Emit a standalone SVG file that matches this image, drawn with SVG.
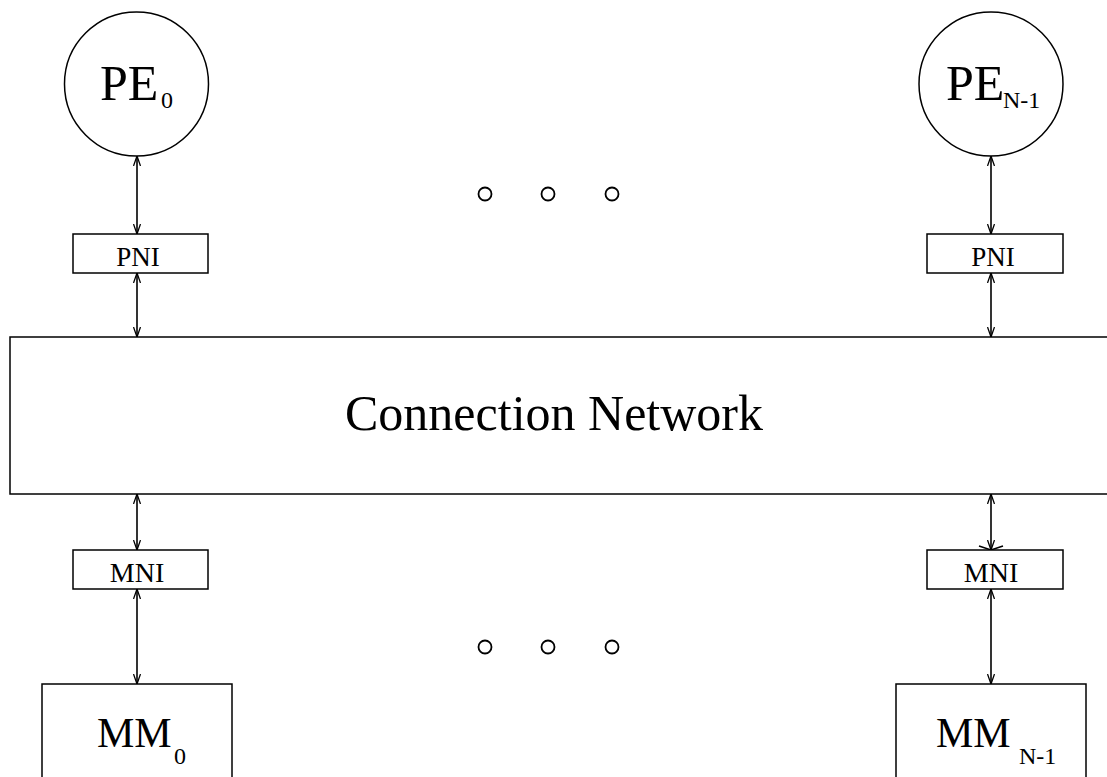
<svg xmlns="http://www.w3.org/2000/svg" width="1107" height="777" viewBox="0 0 1107 777">
<style>
.s{fill:#fff;stroke:#000;stroke-width:1.5}
.t{font-family:"Liberation Serif","Times New Roman",serif;fill:#000}
.c{stroke:#000;stroke-width:1.6;fill:none}
.d{fill:none;stroke:#000;stroke-width:1.8}
</style>
<defs>
<marker id="ah" viewBox="0 0 10 8" refX="10" refY="4" markerWidth="10" markerHeight="8" markerUnits="userSpaceOnUse" orient="auto-start-reverse">
<path d="M0,0.5 L10,4 L0,7.5" fill="none" stroke="#000" stroke-width="1.3"/>
</marker>
</defs>
<rect width="1107" height="777" fill="#fff"/>
<g id="connectors">
<line class="c" x1="137" y1="156" x2="137" y2="234" marker-start="url(#ah)" marker-end="url(#ah)"/>
<line class="c" x1="137" y1="273" x2="137" y2="337" marker-start="url(#ah)" marker-end="url(#ah)"/>
<line class="c" x1="137" y1="494" x2="137" y2="550" marker-start="url(#ah)" marker-end="url(#ah)"/>
<line class="c" x1="137" y1="589" x2="137" y2="684" marker-start="url(#ah)" marker-end="url(#ah)"/>
<line class="c" x1="991" y1="156" x2="991" y2="234" marker-start="url(#ah)" marker-end="url(#ah)"/>
<line class="c" x1="991" y1="273" x2="991" y2="337" marker-start="url(#ah)" marker-end="url(#ah)"/>
<line class="c" x1="991" y1="494" x2="991" y2="550" marker-start="url(#ah)" marker-end="url(#ah)"/>
<path class="c" d="M979,546 L991,550 L1003,546"/>
<line class="c" x1="991" y1="589" x2="991" y2="684" marker-start="url(#ah)" marker-end="url(#ah)"/>
</g>
<g id="pe0">
<circle class="s" cx="136.5" cy="84" r="72"/>
<text class="t" x="100" y="100" font-size="50">PE</text>
<text class="t" x="161" y="108" font-size="24">0</text>
</g>
<g id="peN1">
<circle class="s" cx="991" cy="84" r="72"/>
<text class="t" x="946" y="100" font-size="50">PE</text>
<text class="t" x="1003" y="108" font-size="24">N-1</text>
</g>
<g id="dots-top">
<circle class="d" cx="485" cy="194" r="6.5"/>
<circle class="d" cx="548" cy="194" r="6.5"/>
<circle class="d" cx="612" cy="194" r="6.5"/>
</g>
<g id="pni0">
<rect class="s" x="73" y="234" width="135" height="39"/>
<text class="t" x="138" y="266" font-size="27" text-anchor="middle">PNI</text>
</g>
<g id="pniN1">
<rect class="s" x="927" y="234" width="136" height="39"/>
<text class="t" x="993" y="266" font-size="27" text-anchor="middle">PNI</text>
</g>
<g id="network">
<rect class="s" x="10" y="337" width="1110" height="157"/>
<text class="t" x="554" y="430" font-size="50" text-anchor="middle">Connection Network</text>
</g>
<g id="mni0">
<rect class="s" x="73" y="550" width="135" height="39"/>
<text class="t" x="137" y="582" font-size="28" text-anchor="middle">MNI</text>
</g>
<g id="mniN1">
<rect class="s" x="927" y="550" width="136" height="39"/>
<text class="t" x="991" y="582" font-size="28" text-anchor="middle">MNI</text>
</g>
<g id="dots-bottom">
<circle class="d" cx="485" cy="647" r="6.5"/>
<circle class="d" cx="548" cy="647" r="6.5"/>
<circle class="d" cx="612" cy="647" r="6.5"/>
</g>
<g id="mm0">
<rect class="s" x="42" y="684" width="190" height="110"/>
<text class="t" x="97" y="747" font-size="42">MM</text>
<text class="t" x="174" y="764" font-size="24">0</text>
</g>
<g id="mmN1">
<rect class="s" x="896" y="684" width="190" height="110"/>
<text class="t" x="936" y="747" font-size="42">MM</text>
<text class="t" x="1019" y="764" font-size="24">N-1</text>
</g>
</svg>
